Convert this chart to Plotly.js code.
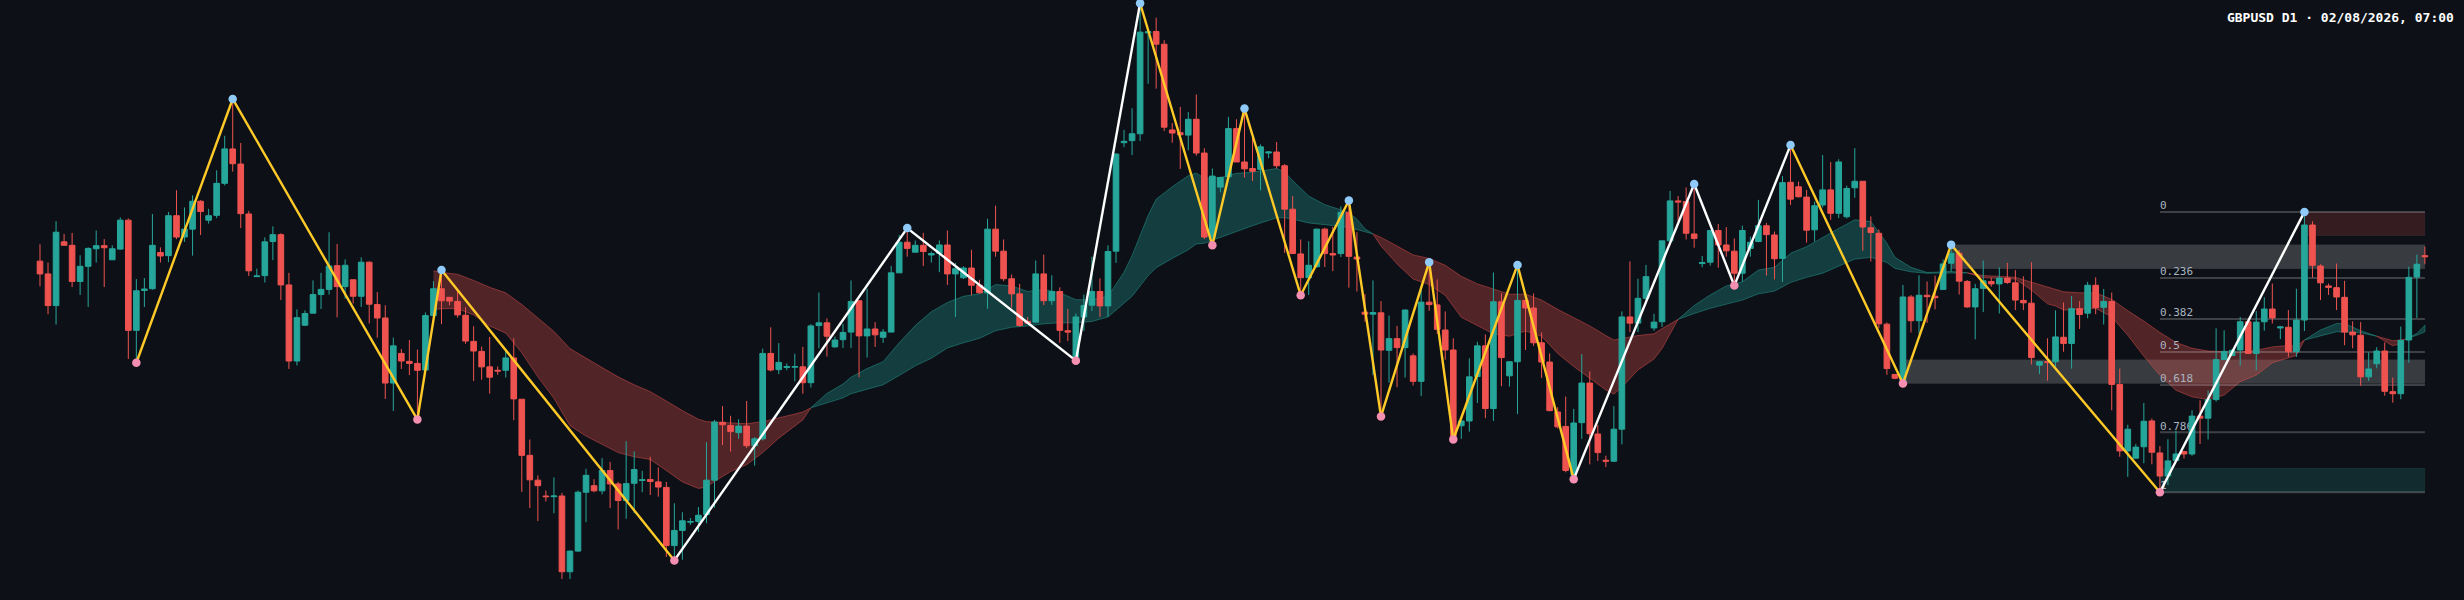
<!DOCTYPE html>
<html>
<head>
<meta charset="utf-8">
<script src="https://cdn.plot.ly/plotly-3.0.1.min.js"></script>
<style>
html,body{margin:0;padding:0;background:#0d1117;}
#chart{width:2464px;height:600px;}
</style>
</head>
<body>
<div id="chart"></div>
<script>
// prices in points above 1.30000
const opens = [
984,947,855,1040,1030,925,969,1020,1029,988,
1019,1103,783,899,904,1009,1000,1116,1054,1077,
1158,1103,1117,1210,1310,1266,1121,939,942,1041,
1061,915,694,798,833,887,902,971,910,930,
882,981,858,819,630,716,693,687,668,826,
904,879,867,827,751,722,677,667,667,703,
583,420,348,302,300,302,82,142,313,332,
317,376,337,289,339,347,350,343,327,158,
202,226,228,248,348,516,507,486,505,448,
468,716,669,675,676,677,631,797,805,735,
756,778,869,767,787,763,778,950,1039,1010,
1030,1002,1007,1031,947,936,964,914,892,1077,
1013,933,889,809,807,947,869,896,782,697,
822,856,896,854,1013,1328,1334,1354,1647,1651,
1614,1365,1357,1350,1396,1298,1054,1199,1229,1369,
1272,1253,1250,1298,1301,1261,1135,1005,936,968,
1077,1006,1006,1126,996,836,830,834,725,759,
733,709,635,865,857,784,726,506,520,649,
738,556,866,651,692,870,848,747,691,546,
504,363,515,630,482,406,403,496,822,804,
876,790,808,1043,1159,1157,1063,977,981,1073,
1031,1013,949,1021,1041,1087,1060,992,1213,1200,
1170,1075,1147,1191,1123,1113,1197,1216,1081,1065,
801,655,629,880,811,885,882,902,978,1007,
925,851,905,925,918,935,921,870,862,682,
692,692,763,745,846,833,914,850,867,626,
433,412,445,520,427,360,405,431,424,534,
528,582,698,710,726,808,716,808,845,790,
792,721,813,1089,970,912,907,879,778,769,
648,686,723,605,599,755,938,1000];

const highs = [
1033,980,1100,1063,1066,1001,1024,1073,1048,1030,
1111,1108,932,935,1121,1024,1127,1190,1140,1175,
1161,1136,1248,1348,1455,1327,1130,962,1053,1085,
1065,950,844,841,928,950,1068,1034,989,930,
995,983,894,856,762,729,755,727,835,926,
958,879,896,850,795,736,764,678,723,760,
583,466,362,318,356,311,144,318,381,351,
412,401,343,461,431,375,416,385,343,281,
255,238,270,458,523,563,535,525,578,473,
730,792,746,687,715,735,801,893,818,765,
802,928,869,904,807,787,970,1060,1080,1044,
1066,1012,1044,1073,979,969,1017,930,1107,1145,
1047,945,918,822,986,1003,943,908,845,832,
887,997,934,1030,1297,1365,1428,1733,1650,1691,
1626,1385,1432,1417,1468,1312,1253,1229,1403,1396,
1427,1342,1323,1303,1330,1266,1173,1047,1042,1078,
1081,1083,1143,1160,1068,888,928,868,826,796,
844,716,908,983,931,838,760,520,702,750,
771,951,891,692,973,870,890,777,716,560,
591,555,714,664,508,419,563,838,983,933,
973,831,1043,1188,1173,1198,1208,999,1074,1092,
1083,1050,1087,1055,1162,1095,1070,1231,1321,1215,
1191,1157,1292,1272,1280,1203,1312,1216,1114,1076,
806,655,915,886,943,925,942,989,1032,1016,
929,918,986,936,966,979,958,940,981,694,
760,841,864,883,868,924,937,903,893,672,
509,453,572,527,447,467,492,433,551,580,
609,789,783,729,822,808,839,879,919,795,
842,904,1126,1100,975,919,977,927,809,807,
719,734,748,646,794,968,1003,1026];

const lows = [
911,830,800,1030,909,886,851,980,909,988,
1017,700,690,851,901,980,981,1048,1040,1000,
1060,1093,1109,1204,1244,1080,941,939,922,987,
871,671,681,796,832,845,887,821,875,861,
851,803,762,584,549,671,653,524,663,823,
801,856,820,744,636,640,599,654,646,522,
314,267,229,286,252,61,61,140,226,313,
307,267,205,236,252,313,305,300,125,115,
117,218,198,223,268,450,431,468,441,390,
463,664,656,667,635,599,617,731,707,733,
732,732,647,704,735,747,778,950,997,1010,
970,980,952,915,822,932,885,890,846,997,
926,849,794,804,806,856,857,747,752,695,
782,839,822,822,979,1315,1292,1333,1499,1485,
1362,1328,1252,1306,1290,1048,1030,1184,1227,1272,
1227,1217,1190,1283,1253,1008,1005,885,886,965,
967,955,996,907,896,808,653,533,631,618,
646,623,592,840,773,698,466,468,489,572,
528,520,621,620,540,726,738,645,548,498,
371,351,468,394,404,386,401,452,778,778,
868,782,793,1043,1100,1047,1023,966,971,965,
997,913,924,997,1039,942,931,924,1147,1169,
1038,1041,1140,1104,1109,1108,1168,1014,983,789,
654,641,629,777,774,805,844,900,954,887,
849,757,836,910,832,918,842,842,684,656,
637,678,721,672,787,818,830,800,551,416,
358,410,397,394,313,334,402,411,419,453,
466,576,698,708,680,714,667,782,803,758,
706,706,781,936,871,886,842,740,731,622,
636,673,593,573,583,689,819,975];

const closes = [
947,855,1068,1030,925,969,1021,1029,1023,1020,
1103,783,898,903,1030,999,1116,1054,1077,1158,
1128,1116,1210,1310,1267,1122,956,941,1040,1061,
915,694,820,832,887,902,970,910,972,882,
981,859,819,630,738,694,687,667,826,904,
869,868,828,752,723,677,647,665,703,584,
420,349,332,300,302,82,142,313,362,317,
376,337,289,338,379,349,344,328,158,202,
230,228,246,348,517,509,489,505,448,468,
716,668,690,678,678,631,796,805,766,755,
777,867,767,787,770,778,950,1039,1021,1030,
1012,1006,1031,947,962,964,914,892,1077,1013,
933,889,797,804,947,869,896,783,778,822,
855,896,854,1012,1295,1332,1354,1649,1650,1614,
1373,1356,1351,1396,1298,1054,1231,1227,1369,1272,
1252,1245,1316,1301,1261,1135,1006,936,972,1077,
1006,1002,1126,998,990,830,835,726,759,733,
842,635,865,858,786,726,468,520,648,738,
556,866,704,692,870,848,747,691,550,503,
376,514,630,483,428,403,496,822,804,876,
939,807,1043,1159,1156,1065,1050,980,1073,1031,
1014,949,1073,1039,1087,1061,991,1212,1164,1171,
1074,1145,1191,1123,1272,1195,1216,1083,1067,802,
672,644,880,811,885,881,878,976,1007,926,
851,904,927,918,935,922,871,863,704,692,
690,764,745,846,829,914,849,867,626,433,
496,444,519,429,360,404,424,424,534,528,
582,698,722,725,808,716,807,845,819,793,
721,813,1089,972,921,908,880,778,770,648,
671,723,606,599,754,937,975,997];

// moving average ribbon, they meet where the colour flips
const ribbonIdx = [
49,50,52,54,56,58,60,62,64,66,68,70,72,74,76,78,80,82,83,84,86,88,90,92,94,95,96,
97,98,100,101,103,105,107,109,111,113,115,117,119,121,123,125,127,129,131,133,135,136,138,139,141,143,144,145,147,149,151,152,154,155,156,158,160,162,163,164,165,166,
167,169,171,173,175,177,179,181,183,185,187,189,191,193,195,196,197,199,201,202,204,
206,208,210,212,214,216,218,220,222,224,226,228,230,231,233,235,236,238,240,
242,244,246,248,250,251,252,254,256,258,260,262,264,266,268,270,272,274,276,278,280,281,282,
284,286,287,289,291,
293,294,294.5,
296,297];
const emaFast = [
843,846,846,828,796,775,718,648,586,506,476,453,428,416,408,376,343,324,328,344,373,393,428,470,506,523,558,
578,600,627,647,672,692,747,797,837,864,882,889,916,912,896,902,892,872,872,882,952,1000,1117,1164,1200,1232,1240,1224,1227,1239,1242,1245,1253,1243,1218,1173,1148,1133,1124,1106,1078,1063,
1028,976,932,916,885,821,796,773,766,781,766,716,678,643,610,598,618,668,700,730,815,
855,886,912,924,958,966,1007,1026,1053,1079,1104,1099,1036,995,966,951,952,954,950,
936,934,932,900,860,854,842,844,847,822,769,708,653,609,590,582,595,634,653,689,704,710,755,
784,803,803,782,766,
738,745,757,
774,798];
const emaSlow = [
956,951,946,928,908,892,858,820,780,730,702,675,648,625,605,578,550,525,518,516,514,512,518,530,540,546,558,
565,573,587,599,612,625,652,680,702,732,747,760,782,792,796,802,805,805,809,822,862,882,942,965,992,1017,1034,1036,1052,1070,1087,1095,1110,1110,1106,1095,1090,1085,1081,1076,1070,1063,
1053,1028,1002,992,972,940,918,903,888,888,871,844,820,796,768,755,758,768,773,788,815,
832,847,860,871,889,897,922,937,949,970,990,995,980,963,953,949,949,949,950,
942,940,937,922,908,902,895,892,892,873,840,810,777,748,731,723,721,720,725,735,739,737,755,
767,779,779,776,766,
753,755,757,
769,779];

// zigzag swings, first leg starts at pivot 0
const pivotIdx = [12,24,47,50,79,108,129,137,146,150,157,163,167,173,176,184,191,206,211,218,232,238,264,282];
const pivotVal = [689,1455,524,958,115,1080,695,1733,1030,1427,885,1160,533,981,466,973,351,1208,913,1321,629,1032,313,1127];
const legWhite = [0,0,0,0,1,1,1,0,0,0,0,0,0,0,0,0,1,1,1,0,0,0,1];

const fibLabels = ['0','0.236','0.382','0.5','0.618','0.786','1'];
const fibValues = [1127,935,816,720,624,487,313];
const fibStart = 264;
const fibEnd = 297;

const zoneStart = [238,232,282,264];
const zoneTop = [1032,698,1127,383];
const zoneBottom = [962,629,1058,313];
const zoneColors = ['rgba(255,255,255,0.18)','rgba(255,255,255,0.18)','rgba(239,83,80,0.18)','rgba(38,166,154,0.18)'];

const UP = '#26a69a';
const DOWN = '#ef5350';
const YELLOW = '#ffca28';
const PINK = '#f48fb1';
const BLUE = '#90caf9';
const BG = '#0d1117';

let traces = [];

// ribbon, one polygon between two crossings
let piece = {x:[],fast:[],slow:[]};
function flushPiece(){
    if(piece.x.length<2)return;
    let bull = false;
    for(let i=0;i<piece.x.length;i++){
	if(piece.fast[i]!=piece.slow[i]){
	    bull = piece.fast[i]>piece.slow[i];
	    break;
	}
    }
    let rgb = bull ? '38,166,154' : '239,83,80';
    traces.push({
	type:'scatter',
	mode:'lines',
	x:piece.x.concat(piece.x.slice().reverse()),
	y:piece.fast.concat(piece.slow.slice().reverse()),
	fill:'toself',
	fillcolor:'rgba('+rgb+',0.3)',
	line:{color:'rgba('+rgb+',0.45)',width:1},
	hoverinfo:'skip',
	showlegend:false
    });
}
for(let i=0;i<ribbonIdx.length;i++){
    piece.x.push(ribbonIdx[i]);
    piece.fast.push(emaFast[i]);
    piece.slow.push(emaSlow[i]);
    if(emaFast[i]==emaSlow[i]){
	flushPiece();
	piece = {x:[ribbonIdx[i]],fast:[emaFast[i]],slow:[emaSlow[i]]};
    }
}
flushPiece();

// fib levels
for(let i=0;i<fibValues.length;i++){
    traces.push({
	type:'scatter',
	mode:'lines',
	x:[fibStart,fibEnd],
	y:[fibValues[i],fibValues[i]],
	line:{color:'rgba(255,255,255,0.2)',width:2},
	hoverinfo:'skip',
	showlegend:false
    });
}
traces.push({
    type:'scatter',
    mode:'text',
    x:fibValues.map(function(){return fibStart;}),
    y:fibValues,
    text:fibLabels,
    textposition:'top right',
    textfont:{family:'"DejaVu Sans Mono", monospace',size:11,color:'#a9b4c0'},
    hoverinfo:'skip',
    showlegend:false
});

// candles sit on their own overlay so they cover the ribbon
traces.push({
    type:'candlestick',
    x:opens.map(function(v,i){return i;}),
    open:opens,
    high:highs,
    low:lows,
    close:closes,
    yaxis:'y2',
    whiskerwidth:0,
    increasing:{line:{color:UP,width:1},fillcolor:UP},
    decreasing:{line:{color:DOWN,width:1},fillcolor:DOWN},
    hoverinfo:'skip',
    showlegend:false
});

// zigzag legs
for(let i=0;i<legWhite.length;i++){
    traces.push({
	type:'scatter',
	mode:'lines',
	x:[pivotIdx[i],pivotIdx[i+1]],
	y:[pivotVal[i],pivotVal[i+1]],
	yaxis:'y3',
	line:{color:legWhite[i]?'#ffffff':YELLOW,width:2.4},
	hoverinfo:'skip',
	showlegend:false
    });
}
traces.push({
    type:'scatter',
    mode:'markers',
    x:pivotIdx,
    y:pivotVal,
    yaxis:'y3',
    marker:{size:8.5,color:pivotIdx.map(function(v,i){return i%2==0?PINK:BLUE;})},
    cliponaxis:false,
    hoverinfo:'skip',
    showlegend:false
});

let zoneShapes = [];
for(let i=0;i<zoneStart.length;i++){
    zoneShapes.push({
	type:'rect',
	layer:'below',
	xref:'x',
	yref:'y',
	x0:zoneStart[i],
	x1:fibEnd,
	y0:zoneBottom[i],
	y1:zoneTop[i],
	fillcolor:zoneColors[i],
	line:{width:1,color:'rgba(255,255,255,0.04)'}
    });
}

const yRange = [0,1742.4];
const hiddenY = {range:yRange,visible:false,fixedrange:true};

let layout = {
    width:2464,
    height:600,
    margin:{l:0,r:0,t:0,b:0,pad:0},
    paper_bgcolor:BG,
    plot_bgcolor:BG,
    showlegend:false,
    boxmode:'overlay',
    boxgap:0.3,
    boxgroupgap:0,
    title:{
	text:'GBPUSD D1 · 02/08/2026, 07:00',
	x:0.9959,
	xanchor:'right',
	y:0.9708,
	yanchor:'middle',
	font:{family:'"DejaVu Sans Mono", monospace',size:13,color:'#ffffff',weight:700}
    },
    xaxis:{range:[-4.98,301.87],visible:false,fixedrange:true,rangeslider:{visible:false}},
    yaxis:hiddenY,
    yaxis2:Object.assign({overlaying:'y'},hiddenY),
    yaxis3:Object.assign({overlaying:'y'},hiddenY),
    shapes:zoneShapes
};

Plotly.newPlot('chart',traces,layout,{staticPlot:true,displayModeBar:false});
</script>
</body>
</html>
